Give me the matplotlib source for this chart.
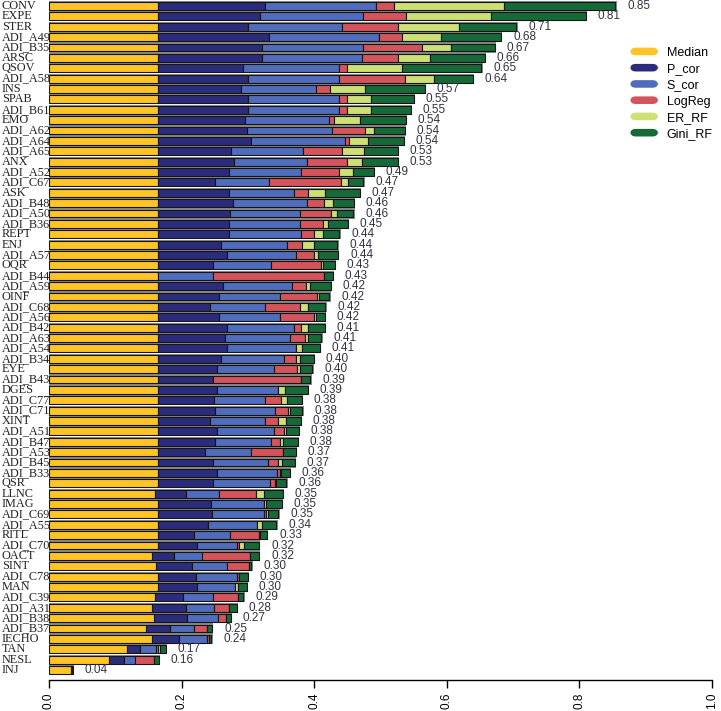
import matplotlib
matplotlib.use("Agg")
import matplotlib.pyplot as plt
from matplotlib.patches import FancyBboxPatch, Patch
from matplotlib.legend_handler import HandlerPatch
from matplotlib.transforms import blended_transform_factory

# 特征名（从上到下）
labels = [
    "CONV", "EXPE", "STER", "ADI_A49", "ADI_B35", "ARSC", "QSOV", "ADI_A58",
    "INS", "SPAB", "ADI_B61", "EMO", "ADI_A62", "ADI_A64", "ADI_A65", "ANX",
    "ADI_A52", "ADI_C67", "ASK", "ADI_B48", "ADI_A50", "ADI_B36", "REPT", "ENJ",
    "ADI_A57", "OQR", "ADI_B44", "ADI_A59", "OINF", "ADI_C68", "ADI_A56", "ADI_B42",
    "ADI_A63", "ADI_A54", "ADI_B34", "EYE", "ADI_B43", "DGES", "ADI_C77", "ADI_C71",
    "XINT", "ADI_A51", "ADI_B47", "ADI_A53", "ADI_B45", "ADI_B33", "QSR", "LLNC",
    "IMAG", "ADI_C69", "ADI_A55", "RITL", "ADI_C70", "OACT", "SINT", "ADI_C78",
    "MAN", "ADI_C39", "ADI_A31", "ADI_B38", "ADI_B37", "IECHO", "TAN", "NESL", "INJ",
]

median = [
    .165, .165, .165, .165, .165, .165, .165, .165, .165, .165, .165, .165, .165,
    .165, .165, .165, .165, .165, .165, .165, .165, .165, .165, .165, .165, .165,
    .165, .165, .165, .165, .165, .165, .165, .165, .165, .165, .165, .165, .165,
    .165, .165, .165, .165, .165, .165, .165, .165, .160, .165, .165, .165, .164,
    .164, .155, .162, .165, .164, .160, .156, .158, .147, .155, .118, .090, .033,
]
p_cor = [
    .161, .154, .135, .167, .157, .157, .128, .135, .124, .135, .135, .131, .134,
    .140, .109, .114, .106, .086, .106, .112, .108, .106, .106, .095, .103, .083,
    .000, .098, .091, .078, .091, .103, .101, .104, .095, .088, .083, .088, .084,
    .086, .078, .089, .086, .071, .083, .089, .083, .046, .080, .081, .075, .055,
    .059, .034, .054, .057, .059, .042, .050, .050, .036, .041, .020, .023, .001,
]
s_cor = [
    .167, .155, .142, .166, .152, .150, .144, .137, .114, .137, .137, .126, .128,
    .142, .109, .110, .109, .081, .099, .112, .105, .107, .109, .099, .104, .087,
    .083, .103, .092, .083, .092, .102, .098, .103, .094, .086, .000, .093, .077,
    .090, .083, .085, .084, .069, .082, .090, .085, .050, .079, .079, .073, .054,
    .060, .042, .053, .061, .057, .045, .043, .047, .035, .042, .023, .017, .000,
]
logreg = [
    .027, .065, .084, .035, .088, .055, .012, .100, .021, .013, .013, .008, .050,
    .006, .059, .061, .057, .109, .020, .026, .048, .036, .020, .022, .028, .076,
    .167, .021, .056, .053, .052, .010, .022, .000, .018, .035, .132, .000, .024,
    .019, .020, .016, .014, .048, .015, .005, .008, .056, .000, .003, .000, .043,
    .003, .072, .032, .004, .000, .038, .022, .012, .020, .004, .004, .028, .000,
]
er_rf = [
    .167, .128, .093, .058, .044, .048, .084, .043, .053, .036, .035, .039, .013,
    .028, .033, .022, .021, .010, .027, .013, .008, .007, .013, .019, .006, .002,
    .000, .007, .003, .012, .002, .010, .004, .010, .006, .004, .000, .010, .009,
    .004, .012, .003, .004, .000, .006, .001, .002, .013, .004, .003, .008, .003,
    .008, .000, .000, .000, .005, .000, .000, .000, .000, .000, .002, .000, .000,
]
gini_rf = [
    .167, .143, .086, .091, .066, .082, .119, .059, .090, .064, .061, .069, .047,
    .054, .051, .054, .032, .023, .052, .032, .025, .030, .025, .035, .030, .018,
    .013, .031, .016, .026, .014, .026, .021, .026, .021, .019, .014, .034, .022,
    .018, .022, .019, .022, .019, .020, .013, .015, .028, .023, .015, .022, .010,
    .023, .014, .004, .013, .013, .008, .012, .007, .008, .003, .009, .008, .002,
]
# 图上标注的总分
totals = [
    0.85, 0.81, 0.71, 0.68, 0.67, 0.66, 0.65, 0.64, 0.57, 0.55, 0.55, 0.54, 0.54,
    0.54, 0.53, 0.53, 0.49, 0.47, 0.47, 0.46, 0.46, 0.45, 0.44, 0.44, 0.44, 0.43,
    0.43, 0.42, 0.42, 0.42, 0.42, 0.41, 0.41, 0.41, 0.40, 0.40, 0.39, 0.39, 0.38,
    0.38, 0.38, 0.38, 0.38, 0.37, 0.37, 0.36, 0.36, 0.35, 0.35, 0.35, 0.34, 0.33,
    0.32, 0.32, 0.30, 0.30, 0.30, 0.29, 0.28, 0.27, 0.25, 0.24, 0.17, 0.16, 0.04,
]

series = [median, p_cor, s_cor, logreg, er_rf, gini_rf]
names = ["Median", "P_cor", "S_cor", "LogReg", "ER_RF", "Gini_RF"]
colors = ["#FFC425", "#2B2D7C", "#4F6CBD", "#D5545B", "#CDE076", "#166A37"]

n = len(labels)
ypos = [n - 1 - i for i in range(n)]
sums = [sum(s[i] for s in series) for i in range(n)]

fig = plt.figure(figsize=(7.21, 7.11), dpi=100)
ax = fig.add_axes([49 / 721, 31 / 711, 663 / 721, 680 / 711])

# 灰色底框
ax.barh(ypos, [v + 0.002 for v in sums], height=0.98, color="#8a8a8a",
        edgecolor="none", zorder=1)

left = [0.0] * n
for vals, name, c in zip(series, names, colors):
    ax.barh(ypos, vals, left=left, height=0.76, color=c, edgecolor="#151515",
            linewidth=0.8, zorder=2, label=name)
    left = [l + v for l, v in zip(left, vals)]

# 总分标注
for y, s, t in zip(ypos, sums, totals):
    ax.text(s + 0.018, y, f"{t:.2f}", ha="left", va="center", fontsize=8.5,
            family="Liberation Sans", color="#333340")

# 左侧标签
trans = blended_transform_factory(fig.transFigure, ax.transData)
for y, lab in zip(ypos, labels):
    ax.text(2 / 721, y, lab, transform=trans, ha="left", va="center",
            fontsize=8.8, family="Liberation Serif", color="#222222")

ax.set_xlim(0, 1)
ax.set_ylim(-0.96, 64.58)
ax.set_yticks([])
for sp in ["left", "top", "right"]:
    ax.spines[sp].set_visible(False)
ax.spines["bottom"].set_bounds(0, 1)
ax.spines["bottom"].set_linewidth(1.0)
ax.set_xticks([0, 0.2, 0.4, 0.6, 0.8, 1.0])
ax.set_xticklabels(["0.0", "0.2", "0.4", "0.6", "0.8", "1.0"], rotation=90,
                   family="Liberation Sans", fontsize=8.5)
ax.tick_params(axis="x", direction="out", length=6, width=1.0, pad=3)


class RoundHandler(HandlerPatch):
    def create_artists(self, legend, orig_handle, xdescent, ydescent, width,
                       height, fontsize, trans):
        p = FancyBboxPatch((-xdescent + 2, -ydescent + 1), width - 4, height - 2,
                           boxstyle="round,pad=0,rounding_size=4",
                           facecolor=orig_handle.get_facecolor(),
                           edgecolor="none", transform=trans)
        return [p]


handles = [Patch(facecolor=c) for c in colors]
ax.legend(handles, names, handler_map={Patch: RoundHandler()},
          loc="upper left", bbox_to_anchor=(621 / 721, 1 - 40 / 711),
          bbox_transform=fig.transFigure, frameon=False, borderpad=0,
          handlelength=2.7, handleheight=0.9, labelspacing=0.3,
          handletextpad=0.45, prop={"family": "Liberation Sans", "size": 9})

fig.savefig("out.png", dpi=100)
